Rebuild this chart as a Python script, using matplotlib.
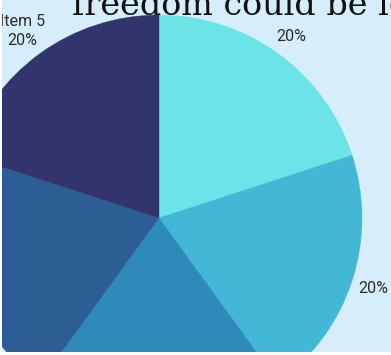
import numpy as np
import matplotlib
matplotlib.use("Agg")
from matplotlib import pyplot as plt
from matplotlib.patches import Rectangle

items = ["Item 1", "Item 2", "Item 3", "Item 4", "Item 5"]
shares = [20, 20, 20, 20, 20]
show_name = [False, False, False, False, True]
colors = ["#6ae4e7", "#42b7d6", "#2e8bb9", "#2c5d95", "#31356b"]
title = "freedom could be lost"

fig = plt.figure(figsize=(3.91, 3.55), dpi=100, facecolor="#d6eefb")

ax = fig.add_axes([0, 0, 1, 1])
cx, cy, R = 159, 137, 203
wedges, _ = ax.pie(shares, colors=colors, startangle=90, counterclock=False,
                   center=(cx, cy), radius=R, frame=True)
for w, c in zip(wedges, colors):
    w.set_edgecolor(c)
    w.set_linewidth(0.3)
ax.set_xlim(0, 391)
ax.set_ylim(0, 355)
ax.set_aspect("equal")
ax.axis("off")

for w, name, v, flag in zip(wedges, items, shares, show_name):
    ang = np.deg2rad((w.theta1 + w.theta2) / 2)
    r = R * (1.145 if flag else 1.11)
    txt = f"{name}\n{v}%" if flag else f"{v}%"
    ax.text(cx + r * np.cos(ang), cy + r * np.sin(ang) - 1, txt, ha="center",
            va="center", fontsize=11.5, color="#2a2a2a", family="Roboto",
            linespacing=1.4)

fig.text(72 / 391, 1 - 15 / 355, title, fontsize=24, family="DejaVu Serif",
         color="#111111", ha="left", va="baseline")

# thin white edge at left and bottom
for rect in [(0, 0, 2 / 391, 1), (0, 0, 1, 3 / 355)]:
    fig.patches.append(Rectangle(rect[:2], rect[2], rect[3], transform=fig.transFigure,
                                 facecolor="white", edgecolor="none", zorder=10))

fig.savefig("out.png", dpi=100, facecolor=fig.get_facecolor())
